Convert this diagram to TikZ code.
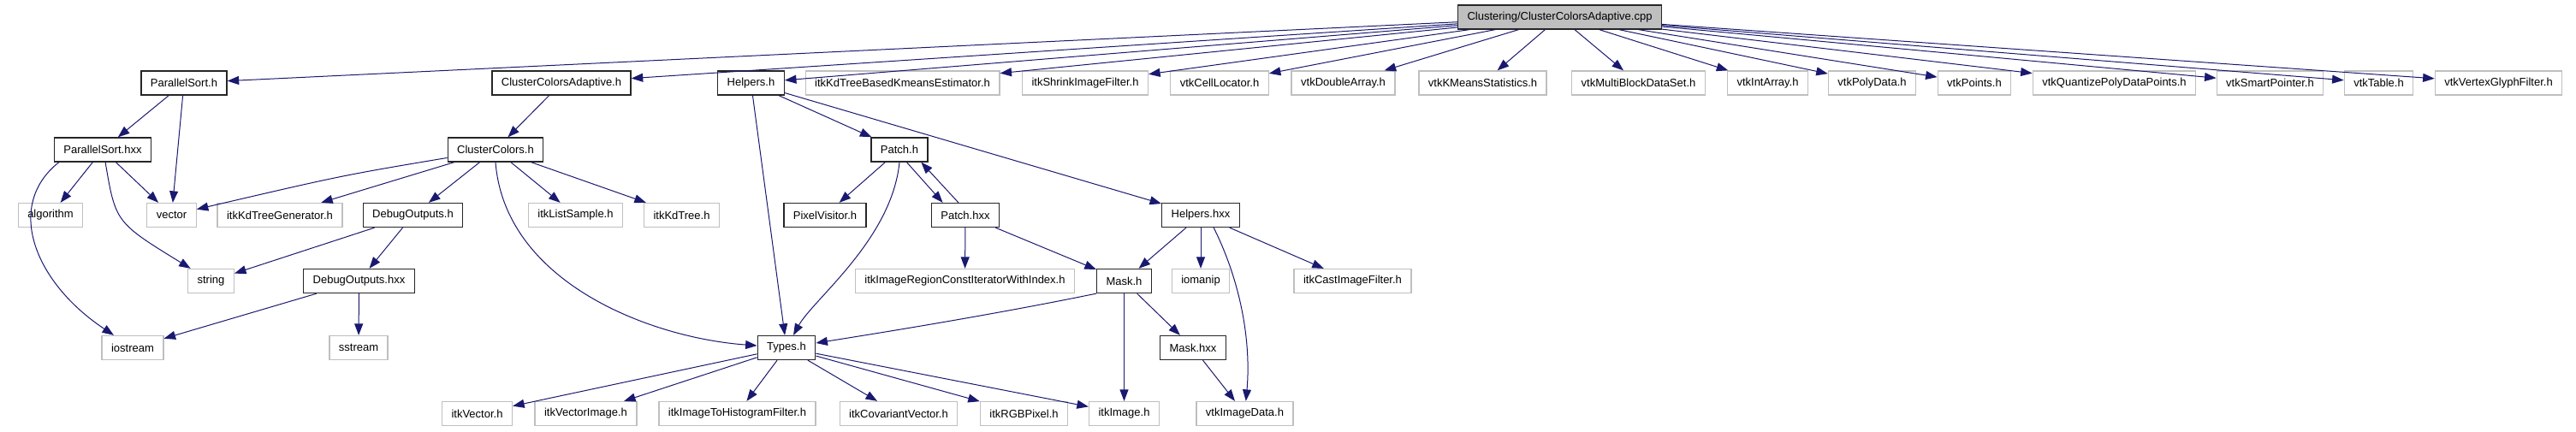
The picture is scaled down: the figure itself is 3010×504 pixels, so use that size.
\documentclass[tikz,border=0pt]{standalone}
\usepackage{fontspec}
\setmainfont{Liberation Sans}
\usepackage{tikz}
\usetikzlibrary{arrows.meta}
\definecolor{dgnavy}{HTML}{191970}
\definecolor{dggray}{HTML}{BFBFBF}
\tikzset{
  dgfile/.style={draw=black!85, fill=white, line width=1.3pt, inner xsep=11pt,
    inner ysep=0pt, minimum height=28pt, font=\fontsize{13}{15}\selectfont},
  dgext/.style={dgfile, draw=dggray},
  dgroot/.style={dgfile, fill=dggray},
  dgarrow/.style={-{Triangle[length=13.5pt,width=10pt]}, line width=1pt, draw=dgnavy}
}

\begin{document}
\begin{tikzpicture}[x=1pt, y=-1pt]
  \useasboundingbox (0,0) rectangle (3010,504);
  % root
  \node[dgroot] (cpp) at (1822.5,20) {Clustering/ClusterColorsAdaptive.cpp};
  % level 1
  \node[dgfile] (psorth) at (215,97) {ParallelSort.h};
  \node[dgfile] (ccadapth) at (656,97) {ClusterColorsAdaptive.h};
  \node[dgfile] (helpersh) at (877.5,97) {Helpers.h};
  \node[dgext] (kdkmeans) at (1054.5,97) {itkKdTreeBasedKmeansEstimator.h};
  \node[dgext] (shrink) at (1268,97) {itkShrinkImageFilter.h};
  \node[dgext] (celloc) at (1425,97) {vtkCellLocator.h};
  \node[dgext] (dblarr) at (1569.5,97) {vtkDoubleArray.h};
  \node[dgext] (kmstat) at (1732.5,97) {vtkKMeansStatistics.h};
  \node[dgext] (multiblock) at (1914.5,97) {vtkMultiBlockDataSet.h};
  \node[dgext] (intarr) at (2065.5,97) {vtkIntArray.h};
  \node[dgext] (polydata) at (2187.5,97) {vtkPolyData.h};
  \node[dgext] (points) at (2307,97) {vtkPoints.h};
  \node[dgext] (quantize) at (2470.5,97) {vtkQuantizePolyDataPoints.h};
  \node[dgext] (smartptr) at (2652.5,97) {vtkSmartPointer.h};
  \node[dgext] (table) at (2779.5,97) {vtkTable.h};
  \node[dgext] (vertexglyph) at (2919.5,97) {vtkVertexGlyphFilter.h};
  % level 2
  \node[dgfile] (psorthxx) at (120,175) {ParallelSort.hxx};
  \node[dgfile] (cch) at (579,175) {ClusterColors.h};
  \node[dgfile] (patchh) at (1051,175) {Patch.h};
  % level 3
  \node[dgext] (algo) at (59,251.5) {algorithm};
  \node[dgext] (vec) at (200.5,251.5) {vector};
  \node[dgext] (kdgen) at (327,251.5) {itkKdTreeGenerator.h};
  \node[dgfile] (dbgh) at (482.5,251.5) {DebugOutputs.h};
  \node[dgext] (listsample) at (672.5,251.5) {itkListSample.h};
  \node[dgext] (kdtree) at (796.5,251.5) {itkKdTree.h};
  \node[dgfile] (pixvis) at (964,251.5) {PixelVisitor.h};
  \node[dgfile] (patchhxx) at (1128,251.5) {Patch.hxx};
  \node[dgfile] (helpershxx) at (1403,251.5) {Helpers.hxx};
  % level 4
  \node[dgext] (str) at (246.5,328.5) {string};
  \node[dgfile] (dbghxx) at (419.5,328.5) {DebugOutputs.hxx};
  \node[dgext] (regioniter) at (1127.5,328.5) {itkImageRegionConstIteratorWithIndex.h};
  \node[dgfile] (maskh) at (1313.5,328.5) {Mask.h};
  \node[dgext] (iomanip) at (1403,328.5) {iomanip};
  \node[dgext] (castfilter) at (1580.5,328.5) {itkCastImageFilter.h};
  % level 5
  \node[dgext] (iostr) at (155,406.5) {iostream};
  \node[dgext] (sstr) at (419,406.5) {sstream};
  \node[dgfile] (typesh) at (919,406.5) {Types.h};
  \node[dgfile] (maskhxx) at (1394,406.5) {Mask.hxx};
  % level 6
  \node[dgext] (itkvec) at (557.5,483.5) {itkVector.h};
  \node[dgext] (vecimg) at (684.5,483.5) {itkVectorImage.h};
  \node[dgext] (histfilter) at (861.5,483.5) {itkImageToHistogramFilter.h};
  \node[dgext] (covvec) at (1050,483.5) {itkCovariantVector.h};
  \node[dgext] (rgbpix) at (1196.5,483.5) {itkRGBPixel.h};
  \node[dgext] (itkimg) at (1313.5,483.5) {itkImage.h};
  \node[dgext] (imgdata) at (1454.5,483.5) {vtkImageData.h};
  % includes of the cpp
  \draw[dgarrow] (cpp) -- (psorth);
  \draw[dgarrow] (cpp) -- (ccadapth);
  \draw[dgarrow] (cpp) -- (helpersh);
  \draw[dgarrow] (cpp) -- (kdkmeans);
  \draw[dgarrow] (cpp) -- (shrink);
  \draw[dgarrow] (cpp) -- (celloc);
  \draw[dgarrow] (cpp) -- (dblarr);
  \draw[dgarrow] (cpp) -- (kmstat);
  \draw[dgarrow] (cpp) -- (multiblock);
  \draw[dgarrow] (cpp) -- (intarr);
  \draw[dgarrow] (cpp) -- (polydata);
  \draw[dgarrow] (cpp) -- (points);
  \draw[dgarrow] (cpp) -- (quantize);
  \draw[dgarrow] (cpp) -- (smartptr);
  \draw[dgarrow] (cpp) -- (table);
  \draw[dgarrow] (cpp) -- (vertexglyph);
  % ParallelSort
  \draw[dgarrow] (psorth) -- (psorthxx);
  \draw[dgarrow] (psorth) -- (vec);
  \draw[dgarrow] (psorthxx) -- (algo);
  \draw[dgarrow] (psorthxx) -- (vec);
  \draw[dgarrow] (psorthxx.-78) .. controls (135,260) .. (str);
  \draw[dgarrow] (psorthxx.196) .. controls (5,240) and (40,330) .. (iostr);
  % ClusterColors
  \draw[dgarrow] (ccadapth) -- (cch);
  \draw[dgarrow] (cch) .. controls (400,205) .. (vec);
  \draw[dgarrow] (cch) -- (kdgen);
  \draw[dgarrow] (cch) -- (dbgh);
  \draw[dgarrow] (cch) -- (listsample);
  \draw[dgarrow] (cch) -- (kdtree);
  \draw[dgarrow] (cch.south) .. controls (590,330) and (760,395) .. (typesh);
  \draw[dgarrow] (dbgh) -- (str);
  \draw[dgarrow] (dbgh) -- (dbghxx);
  \draw[dgarrow] (dbghxx) -- (iostr);
  \draw[dgarrow] (dbghxx) -- (sstr);
  % Helpers and Patch
  \draw[dgarrow] (helpersh) -- (typesh);
  \draw[dgarrow] (helpersh) -- (patchh);
  \draw[dgarrow] (helpersh) -- (helpershxx);
  \draw[dgarrow] (patchh) -- (pixvis);
  \draw[dgarrow] (patchh.south) .. controls (1042,280) and (950,350) .. (typesh);
  \draw[dgarrow] (patchh.-60) -- (patchhxx.151);
  \draw[dgarrow] (patchhxx.119) -- (patchh.-30);
  \draw[dgarrow] (patchhxx) -- (regioniter);
  \draw[dgarrow] (patchhxx) -- (maskh);
  \draw[dgarrow] (helpershxx) -- (maskh);
  \draw[dgarrow] (helpershxx) -- (iomanip);
  \draw[dgarrow] (helpershxx) -- (castfilter);
  \draw[dgarrow] (helpershxx.-44) .. controls (1450,330) and (1462,400) .. (imgdata);
  % Mask
  \draw[dgarrow] (maskh.south west) .. controls (1150,370) and (1010,392) .. (typesh);
  \draw[dgarrow] (maskh) -- (itkimg);
  \draw[dgarrow] (maskh) -- (maskhxx);
  \draw[dgarrow] (maskhxx) -- (imgdata);
  % Types
  \draw[dgarrow] (typesh) -- (itkvec);
  \draw[dgarrow] (typesh) -- (vecimg);
  \draw[dgarrow] (typesh) -- (histfilter);
  \draw[dgarrow] (typesh) -- (covvec);
  \draw[dgarrow] (typesh) -- (rgbpix);
  \draw[dgarrow] (typesh) -- (itkimg);
\end{tikzpicture}
\end{document}
